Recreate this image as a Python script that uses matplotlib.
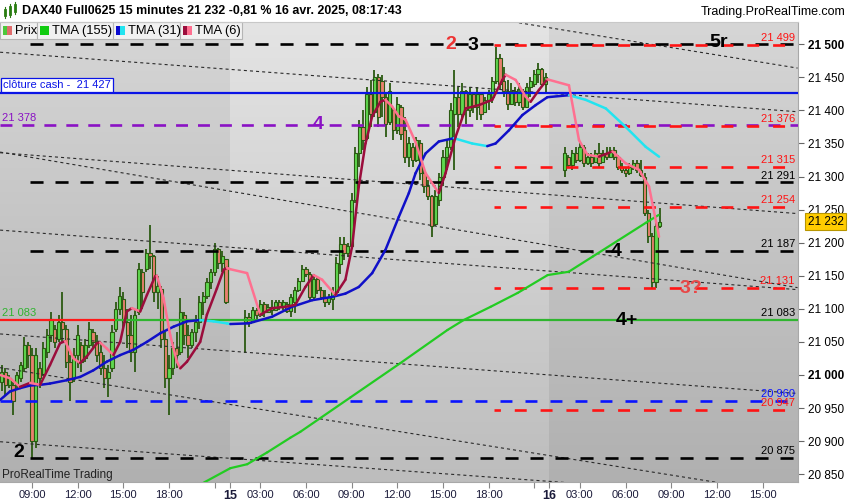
import numpy as np
import matplotlib
matplotlib.use("Agg")
import matplotlib.pyplot as plt
import matplotlib.transforms as mtransforms
from matplotlib.collections import LineCollection
from matplotlib.patches import Rectangle
from matplotlib.ticker import FuncFormatter

plt.rcParams.update({
    "font.family": ["Liberation Sans", "DejaVu Sans"],
    "lines.scale_dashes": False,
})

# time axis = trading hours counted from 14 avr. 01:00, sessions 01:00-22:00 (21 h)
sess_start = {"14": 6.0, "15": 22.0, "16": 43.0}
BAR_H = 0.25

# 15 min bars, 14 avr.
o14 = [20990, 21005, 20985, 20985, 20985, 20995, 21010, 21045, 21030, 20900,
       21010, 21000, 21035, 21060, 21070, 21055, 21080, 21070, 21020, 20995,
       21030, 21045, 21025, 21045, 21065, 21050, 21035, 21010, 20995, 21010,
       21070, 21100, 21115, 21080, 21060, 21035, 21095, 21155, 21160, 21185,
       21180, 21125, 21130, 21055, 20995, 21010, 21040, 21035, 21090, 21060,
       21045, 21065, 21080, 21110, 21120, 21140, 21155, 21190, 21170, 21175]
h14 = [21015, 21010, 21000, 20990, 21005, 21020, 21058, 21050, 21040, 21040,
       21020, 21050, 21070, 21095, 21075, 21090, 21125, 21075, 21030, 21040,
       21075, 21050, 21055, 21080, 21070, 21060, 21050, 21030, 21015, 21075,
       21110, 21133, 21126, 21100, 21090, 21100, 21170, 21160, 21190, 21227,
       21182, 21150, 21135, 21065, 21030, 21050, 21065, 21116, 21095, 21075,
       21070, 21090, 21120, 21126, 21146, 21160, 21200, 21192, 21187, 21176]
l14 = [20975, 20970, 20980, 20940, 20980, 20990, 21005, 21010, 20875, 20890,
       20980, 21000, 21025, 21050, 21040, 21050, 21050, 21010, 20960, 20990,
       21010, 21005, 21020, 21040, 21040, 21020, 21000, 20980, 20967, 21005,
       21065, 21090, 21070, 21040, 21020, 21005, 21090, 21100, 21155, 21160,
       21110, 21100, 21040, 20980, 20940, 21000, 21010, 21030, 21045, 21025,
       21040, 21050, 21070, 21090, 21115, 21130, 21150, 21160, 21156, 21108]
c14 = [21005, 20985, 20995, 20960, 21000, 21015, 21045, 21030, 20900, 21030,
       20995, 21040, 21060, 21085, 21050, 21080, 21070, 21020, 20990, 21030,
       21060, 21020, 21045, 21070, 21050, 21030, 21010, 20995, 21005, 21065,
       21100, 21120, 21080, 21060, 21035, 21090, 21160, 21125, 21185, 21180,
       21125, 21135, 21055, 20995, 21010, 21040, 21030, 21095, 21060, 21045,
       21065, 21080, 21110, 21120, 21140, 21155, 21190, 21170, 21180, 21110]

# 15 avr.
o15 = [21080, 21088, 21080, 21098, 21090, 21108, 21095, 21103, 21098, 21110,
       21102, 21108, 21096, 21110, 21128, 21142, 21160, 21152, 21118, 21145,
       21128, 21118, 21110, 21115, 21125, 21168, 21198, 21185, 21195, 21265,
       21335, 21375, 21358, 21425, 21398, 21450, 21445, 21420, 21382, 21400,
       21370, 21405, 21370, 21330, 21345, 21325, 21350, 21305, 21285, 21270,
       21228, 21265, 21300, 21330, 21345, 21395, 21420, 21395, 21430, 21400,
       21425, 21405, 21425, 21398, 21415, 21420, 21445, 21480, 21445, 21430,
       21410, 21430, 21412, 21430, 21405, 21435, 21440, 21455, 21462, 21440]
h15 = [21098, 21093, 21103, 21101, 21113, 21110, 21108, 21113, 21113, 21113,
       21113, 21110, 21123, 21133, 21146, 21166, 21163, 21155, 21153, 21148,
       21133, 21128, 21123, 21133, 21179, 21209, 21209, 21199, 21275, 21345,
       21385, 21400, 21436, 21446, 21461, 21455, 21453, 21426, 21441, 21405,
       21420, 21408, 21390, 21360, 21350, 21360, 21355, 21315, 21295, 21272,
       21280, 21305, 21340, 21355, 21411, 21461, 21436, 21441, 21431, 21436,
       21426, 21436, 21426, 21421, 21431, 21451, 21496, 21486, 21466, 21446,
       21441, 21436, 21441, 21432, 21441, 21451, 21461, 21471, 21464, 21456]
l15 = [21033, 21073, 21078, 21085, 21088, 21088, 21093, 21090, 21096, 21098,
       21098, 21093, 21088, 21093, 21126, 21140, 21148, 21113, 21113, 21123,
       21113, 21103, 21106, 21098, 21123, 21153, 21174, 21179, 21190, 21260,
       21315, 21340, 21355, 21375, 21390, 21375, 21390, 21360, 21378, 21355,
       21365, 21355, 21320, 21315, 21315, 21322, 21295, 21275, 21265, 21209,
       21225, 21255, 21285, 21310, 21340, 21310, 21375, 21385, 21380, 21390,
       21396, 21385, 21385, 21396, 21401, 21411, 21440, 21431, 21421, 21401,
       21408, 21406, 21406, 21401, 21403, 21421, 21436, 21441, 21436, 21426]
c15 = [21088, 21078, 21098, 21090, 21108, 21095, 21103, 21098, 21110, 21102,
       21110, 21096, 21118, 21128, 21142, 21160, 21152, 21118, 21145, 21128,
       21118, 21110, 21118, 21125, 21170, 21198, 21185, 21195, 21265, 21335,
       21375, 21355, 21425, 21395, 21450, 21390, 21420, 21380, 21430, 21370,
       21410, 21365, 21330, 21350, 21325, 21355, 21305, 21285, 21270, 21225,
       21270, 21300, 21330, 21345, 21400, 21420, 21395, 21430, 21400, 21425,
       21405, 21425, 21395, 21415, 21425, 21445, 21480, 21440, 21430, 21410,
       21430, 21412, 21432, 21405, 21435, 21445, 21455, 21462, 21440, 21450]

# 16 avr.
o16 = [21310, 21330, 21318, 21335, 21325, 21345, 21320, 21330, 21322, 21335,
       21322, 21335, 21330, 21340, 21330, 21315, 21310, 21305, 21315, 21320,
       21310, 21300, 21245, 21210, 21140, 21225]
h16 = [21345, 21332, 21340, 21345, 21350, 21347, 21335, 21335, 21340, 21350,
       21340, 21345, 21345, 21345, 21332, 21320, 21315, 21320, 21325, 21325,
       21325, 21305, 21250, 21215, 21230, 21252]
l16 = [21300, 21315, 21310, 21320, 21322, 21315, 21318, 21315, 21320, 21315,
       21320, 21325, 21328, 21325, 21310, 21305, 21300, 21303, 21310, 21305,
       21300, 21240, 21200, 21131, 21131, 21222]
c16 = [21335, 21318, 21335, 21325, 21345, 21320, 21330, 21320, 21335, 21320,
       21335, 21330, 21340, 21330, 21315, 21310, 21305, 21315, 21320, 21310,
       21302, 21245, 21210, 21140, 21225, 21232]

# moving averages (time in trading hours, price)
tma6_t = [5.89, 6.55, 7.21, 7.87, 8.53, 9.18, 9.84, 10.17, 10.72, 11.16, 11.60,
          12.26, 12.47, 12.91, 13.35, 13.79, 14.23, 14.56, 15.11, 15.55, 16.09,
          16.20, 16.64, 17.08, 17.52, 17.74, 18.18, 19.05, 19.49, 20.15, 20.59,
          20.81, 21.00, 22.13, 23.00, 23.77, 24.64, 25.30, 25.96, 26.51, 27.06,
          27.93, 28.59, 29.03, 29.47, 29.91, 30.35, 30.89, 31.22, 31.66, 32.10,
          32.54, 33.20, 33.86, 34.73, 35.17, 35.83, 36.49, 37.36, 38.24, 38.90,
          39.12, 39.78, 40.43, 40.76, 41.31, 41.86, 43.28, 43.94, 44.49, 45.25,
          46.14, 47.01, 47.89, 48.54, 49.20]
tma6_p = [21000, 20995, 20982, 20988, 20985, 21015, 21048, 21051, 21025, 21018, 21028,
          21048, 21049, 21040, 21030, 21050, 21096, 21101, 21096, 21121, 21149,
          21150, 21116, 21060, 21020, 21010, 21020, 21050, 21091, 21131, 21159,
          21162, 21160, 21154, 21091, 21101, 21103, 21106, 21133, 21151, 21144,
          21121, 21144, 21194, 21285, 21350, 21391, 21413, 21416, 21406, 21391,
          21386, 21352, 21305, 21275, 21305, 21360, 21403, 21408, 21416, 21446,
          21454, 21446, 21421, 21413, 21431, 21447, 21438, 21355, 21333, 21330,
          21338, 21320, 21310, 21285, 21209]

tma31_t = [5.89, 6.55, 7.21, 7.87, 8.53, 9.18, 10.28, 11.16, 12.03, 12.91, 13.79,
           14.66, 15.55, 16.42, 17.30, 18.18, 19.05, 19.93, 20.81, 21.03, 22.23,
           23.77, 25.08, 26.40, 27.72, 28.59, 29.47, 30.35, 31.22, 32.10, 32.76,
           33.20, 33.86, 34.73, 35.72, 36.92, 37.91, 38.46, 39.34, 40.22, 41.09,
           41.86, 43.28, 44.38, 45.70, 47.01, 48.32, 49.20]
tma31_p = [20962, 20975, 20980, 20984, 20985, 20987, 20992, 20997, 21007, 21020, 21030,
           21038, 21050, 21063, 21073, 21081, 21083, 21081, 21078, 21077, 21078,
           21088, 21103, 21113, 21118, 21123, 21133, 21154, 21189, 21239, 21275,
           21305, 21335, 21353, 21358, 21350, 21346, 21350, 21370, 21393, 21408,
           21420, 21423, 21416, 21403, 21375, 21345, 21330]

tma155_t = [18.39, 21.03, 22.14, 23.46, 24.97, 25.63, 28.92, 32.21, 35.30, 36.36,
            38.13, 39.91, 41.88, 43.26, 44.84, 46.55, 48.33, 49.18]
tma155_p = [20826, 20859, 20865, 20883, 20905, 20914, 20966, 21018, 21068, 21083,
            21103, 21124, 21151, 21156, 21179, 21204, 21230, 21242]

# drawn levels
black_levels = [21500, 21291, 21187, 20875]
red_levels = [21499, 21376, 21315, 21254, 21131, 20947]
purple_level = 21378
blue_dash_level = 20960
cash_close = 21427
green_level = 21083
last_price = 21232
black_from, red_from, green_from = 7.87, 38.33, 13.46

# dotted trend lines (t0, p0, t1, p1)
trend_lines = [
    (5.9, 21488, 58.3, 21398),
    (39.6, 21534, 58.3, 21464),
    (5.9, 21336, 58.3, 21244),
    (5.9, 21337, 58.3, 21132),
    (5.9, 21219, 58.3, 21129),
    (5.9, 20899, 58.3, 20812),
    (5.9, 21062, 58.3, 20972),
    (5.9, 21011, 58.3, 20818),
]

# wave marks written on the chart
wave_marks = [("2", 35.5, 21500, "#ee3333"), ("3", 37.0, 21498, "black"),
              ("5r", 53.1, 21503, "black"), ("4", 26.8, 21378, "#8a12c4"),
              ("4", 46.4, 21186, "black"), ("3?", 51.3, 21131, "#e84848"),
              ("4+", 47.1, 21083, "black"), ("2", 7.1, 20882, "black")]

x_ticks = [8, 11, 14, 17, 21, 23, 26, 29, 32, 35, 38, 42, 44, 47, 50, 53, 56]
x_labels = ["09:00", "12:00", "15:00", "18:00", "15", "03:00", "06:00", "09:00",
            "12:00", "15:00", "18:00", "16", "03:00", "06:00", "09:00", "12:00", "15:00"]
session_bounds = [5.5, 21.0, 42.0, 59.0]

XMIN, XMAX = 5.895, 58.33
YMIN, YMAX = 20838.1, 21533.7

fig = plt.figure(figsize=(8.5, 5.0), dpi=100, facecolor="white")
ax = fig.add_axes([0.0, 18 / 500, 798 / 850, 460 / 500])

# session backgrounds (vertical gradient, alternate tone)
for k in range(3):
    top, bot = (("#d6d6d6", "#b0b0b0") if k != 1 else ("#e4e4e4", "#bdbdbd"))
    c0 = np.array(matplotlib.colors.to_rgb(top))
    c1 = np.array(matplotlib.colors.to_rgb(bot))
    f = np.linspace(0, 1, 200)[:, None, None]
    img = c0 * (1 - f) + c1 * f
    ax.imshow(img, extent=[session_bounds[k], session_bounds[k + 1], YMIN, YMAX],
              aspect="auto", origin="upper", zorder=0, interpolation="bilinear")

WICK = "#2b5a12"
for key, O, H, L, C in [("14", o14, h14, l14, c14), ("15", o15, h15, l15, c15),
                        ("16", o16, h16, l16, c16)]:
    O, H, L, C = map(np.asarray, (O, H, L, C))
    t = sess_start[key] + BAR_H * np.arange(len(O))
    ax.vlines(t, L, H, color=WICK, lw=1.3, zorder=2)
    body = np.maximum(np.abs(C - O), 1.5)
    cols = np.where(C >= O, "#5fd84f", "#e8806e")
    ax.bar(t, body, bottom=np.minimum(O, C), width=0.21, color=cols,
           edgecolor=WICK, linewidth=0.8, zorder=2.1)

# dotted trend lines
for t0, p0, t1, p1 in trend_lines:
    ax.plot([t0, t1], [p0, p1], color="#2a2a2a", lw=0.8,
            linestyle=(0, (2.2, 2.2)), zorder=3)

# horizontal levels
for lv in black_levels:
    ax.hlines(lv, black_from, XMAX, color="black", lw=1.9, linestyle=(0, (9.4, 8.6)), zorder=3)
for lv in red_levels:
    ax.hlines(lv, red_from, XMAX, color="#ff1414", lw=1.9, linestyle=(4, (8.6, 10.0)), zorder=3.1)
ax.hlines(purple_level, XMIN, XMAX, color="#8a12c4", lw=1.9, linestyle=(0, (8.6, 7.2)), zorder=3)
ax.hlines(blue_dash_level, XMIN, XMAX, color="#0a14ff", lw=1.9, linestyle=(0, (8.6, 9.4)), zorder=3)
ax.hlines(cash_close, XMIN, XMAX, color="#0a14e6", lw=1.6, zorder=3)
ax.hlines(green_level, XMIN, green_from, color="#ff1a1a", lw=1.6, zorder=3)
ax.hlines(green_level, green_from, XMAX, color="#2fb52f", lw=1.6, zorder=3)


def ma_line(t, p, up, down, lw):
    pts = np.column_stack([t, p])
    segs = np.stack([pts[:-1], pts[1:]], axis=1)
    cols = [up if b >= a else down for a, b in zip(p[:-1], p[1:])]
    ax.add_collection(LineCollection(segs, colors=cols, linewidths=lw, zorder=4,
                                     capstyle="round", joinstyle="round"))


ma_line(tma155_t, tma155_p, "#22cc22", "#22cc22", 1.6)
ma_line(tma31_t, tma31_p, "#1010c8", "#22e4f0", 1.8)
ma_line(tma6_t, tma6_p, "#9b0d3c", "#ff7090", 1.8)

# level labels
right = mtransforms.blended_transform_factory(ax.transAxes, ax.transData)
fmt = lambda v: f"{int(v):,}".replace(",", " ")
label_levels = ([(lv, "#ff1414") for lv in red_levels]
                + [(lv, "black") for lv in black_levels[1:]]
                + [(green_level, "black"), (blue_dash_level, "#0a14ff")])
for lv, col in label_levels:
    ax.text(0.996, lv + 3, fmt(lv), transform=right, ha="right", va="bottom",
            fontsize=8, color=col, zorder=6)
ax.text(0.003, purple_level + 3, fmt(purple_level), transform=right, ha="left",
        va="bottom", fontsize=8, color="#8a12c4", zorder=6)
ax.text(0.003, green_level + 3, fmt(green_level), transform=right, ha="left",
        va="bottom", fontsize=8, color="#2fb52f", zorder=6)
ax.text(0.004, cash_close + 4, "clôture cash -  " + fmt(cash_close), transform=right,
        ha="left", va="bottom", fontsize=8, color="#0a14e6", zorder=6,
        bbox=dict(boxstyle="square,pad=0.2", fc="white", ec="#0a14e6", lw=0.9))
ax.text(0.003, 0.015, "ProRealTime Trading", transform=ax.transAxes, ha="left",
        va="center", fontsize=8.5, color="#222222", zorder=6)

for txt, t, p, col in wave_marks:
    ax.text(t, p, txt, ha="center", va="center", fontsize=14, fontweight="bold",
            color=col, zorder=6)

# last price tag
ax.text(1.012, last_price, fmt(last_price), transform=right, ha="left", va="center",
        fontsize=8.5, color="black", zorder=7, clip_on=False,
        bbox=dict(boxstyle="square,pad=0.25", fc="#ffcc00", ec="#b89600", lw=0.8))

ax.set_xlim(XMIN, XMAX)
ax.set_ylim(YMIN, YMAX)
ax.yaxis.tick_right()
ax.set_yticks(np.arange(20850, 21501, 50))
ax.yaxis.set_major_formatter(FuncFormatter(lambda v, _: fmt(v)))
ax.set_xticks(x_ticks)
ax.set_xticklabels(x_labels)
ax.set_xticks([20, 41], minor=True)
ax.tick_params(axis="y", direction="out", length=4, width=0.8, color="#666666",
               labelsize=8.5, pad=3)
ax.tick_params(axis="x", which="both", direction="out", length=4, width=0.8,
               color="#888888", labelsize=8, pad=1.5, labelcolor="#1b1b3a")
for lab in ax.get_yticklabels():
    if lab.get_text() in ("21 000", "21 500"):
        lab.set_fontweight("bold")
for lab in ax.get_xticklabels():
    if lab.get_text() in ("15", "16"):
        lab.set_fontweight("bold")
        lab.set_fontsize(9)
for s in ("top", "left"):
    ax.spines[s].set_visible(False)
for s in ("right", "bottom"):
    ax.spines[s].set_color("#a8a8a8")
    ax.spines[s].set_linewidth(0.8)

# header and legend row, in pixel coordinates
ov = fig.add_axes([0, 0, 1, 1], zorder=10)
ov.set_xlim(0, 850)
ov.set_ylim(500, 0)
ov.axis("off")
ov.patch.set_alpha(0)
for x0, yb, hgt in [(4, 9, 7), (9, 6, 9), (14, 4, 8)]:
    ov.plot([x0 + 1, x0 + 1], [yb - 2, yb + hgt + 2], color="#2b7a12", lw=0.8)
    ov.add_patch(Rectangle((x0, yb), 2.2, hgt, fc="#4cc83c", ec="#2b7a12", lw=0.6))
ov.text(22, 11.5, "DAX40 Full0625 15 minutes 21 232 -0,81 % 16 avr. 2025, 08:17:43",
        fontsize=8.9, fontweight="bold", va="center", ha="left")
ov.text(845, 11.5, "Trading.ProRealTime.com", fontsize=9, va="center", ha="right")
ov.plot([0, 798], [21.5, 21.5], color="#c8c8c8", lw=0.8)

legend_boxes = [("Prix", ("#4cc83c", "#e06c6c"), 0, 37),
                ("TMA (155)", ("#11cc11", "#11cc11"), 37, 113),
                ("TMA (31)", ("#0a0ad0", "#22e4f0"), 113, 180),
                ("TMA (6)", ("#9b0d3c", "#ff6f90"), 180, 242)]
for name, (ca, cb), x0, x1 in legend_boxes:
    ov.add_patch(Rectangle((x0, 22), x1 - x0, 17, fc="#f1f1f1", ec="#b5b5b5", lw=0.8))
    ov.add_patch(Rectangle((x0 + 3, 26), 4.5, 9, fc=ca, ec="none"))
    ov.add_patch(Rectangle((x0 + 7.5, 26), 4.5, 9, fc=cb, ec="none"))
    ov.text(x0 + 15, 31, name, fontsize=9.3, va="center", ha="left")

fig.savefig("out.png", dpi=100, facecolor="white")
